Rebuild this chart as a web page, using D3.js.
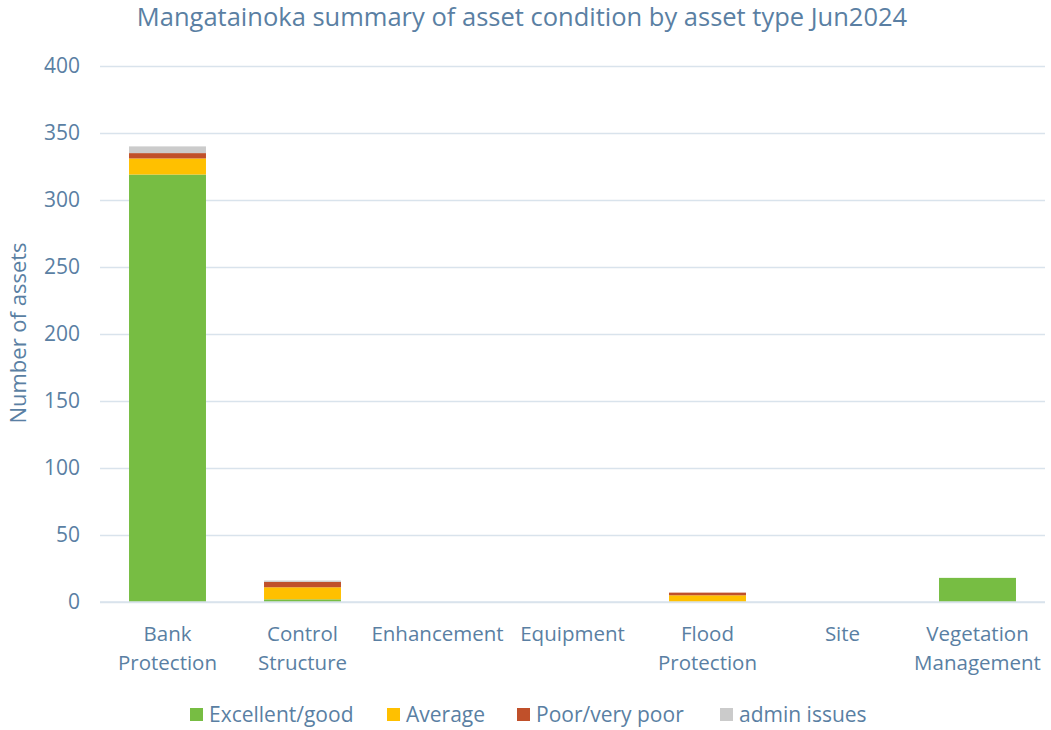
<!DOCTYPE html>
<html>
<head>
<meta charset="utf-8">
<script src="https://cdn.jsdelivr.net/npm/d3@7"></script>
<style>
  body { margin: 0; background: #fff; }
  text { font-family: "Open Sans", sans-serif; fill: #5a7fa3; }
</style>
</head>
<body>
<div id="chart"></div>
<script>
// 資料
const categories = ["Bank Protection", "Control Structure", "Enhancement", "Equipment", "Flood Protection", "Site", "Vegetation Management"];
const categoryLines = [["Bank", "Protection"], ["Control", "Structure"], ["Enhancement"], ["Equipment"], ["Flood", "Protection"], ["Site"], ["Vegetation", "Management"]];
const seriesNames = ["Excellent/good", "Average", "Poor/very poor", "admin issues"];
const excellentGood = [319, 2, 0, 0, 0, 0, 18];
const average = [12, 9, 0, 0, 5, 0, 0];
const poorVeryPoor = [4, 4, 0, 0, 2, 0, 0];
const adminIssues = [5, 1, 0, 0, 0, 0, 0];
const yTicks = [0, 50, 100, 150, 200, 250, 300, 350, 400];
const colors = ["#77bd43", "#ffc000", "#c0502a", "#cbcbcb"];

const W = 1051, H = 730;
const margin = { top: 66, right: 6, bottom: 128, left: 100 };
const width = W - margin.left - margin.right;
const height = H - margin.top - margin.bottom;

const svg = d3.select("#chart").append("svg")
    .attr("width", W).attr("height", H);

// 標題
svg.append("text")
    .attr("x", 522).attr("y", 26)
    .attr("text-anchor", "middle")
    .style("font-size", "25.5px")
    .text("Mangatainoka summary of asset condition by asset type Jun2024");

const g = svg.append("g").attr("transform", `translate(${margin.left},${margin.top})`);

const x = d3.scaleBand().domain(categories).range([0, width]).paddingInner(0.43).paddingOuter(0.215);
const y = d3.scaleLinear().domain([0, 400]).range([height, 0]);

// 格線與 Y 軸
const yAxis = g.append("g")
    .call(d3.axisLeft(y).tickValues(yTicks).tickSize(-width).tickPadding(20));
yAxis.select(".domain").remove();
yAxis.selectAll(".tick line").attr("stroke", "#d9e3ec").attr("stroke-width", 1.3);
yAxis.selectAll(".tick text").style("font-size", "21px").style("fill", "#5a7fa3");

// 堆疊資料
const table = categories.map((c, i) => ({
    category: c,
    "Excellent/good": excellentGood[i],
    "Average": average[i],
    "Poor/very poor": poorVeryPoor[i],
    "admin issues": adminIssues[i]
}));
const stacked = d3.stack().keys(seriesNames)(table);
const color = d3.scaleOrdinal().domain(seriesNames).range(colors);

g.append("g").selectAll("g")
    .data(stacked)
    .enter().append("g")
    .attr("fill", d => color(d.key))
    .selectAll("rect")
    .data(d => d)
    .enter().append("rect")
    .attr("x", d => x(d.data.category))
    .attr("width", x.bandwidth())
    .attr("y", d => y(d[1]))
    .attr("height", d => y(d[0]) - y(d[1]));

// 基線
g.append("line")
    .attr("x1", 0).attr("x2", width)
    .attr("y1", height).attr("y2", height)
    .attr("stroke", "#d9e3ec").attr("stroke-width", 1.5);

// X 軸標籤
const xl = g.append("g");
categories.forEach((c, i) => {
    const t = xl.append("text")
        .attr("x", x(c) + x.bandwidth() / 2)
        .attr("y", height + 39)
        .attr("text-anchor", "middle")
        .style("font-size", "20.5px");
    categoryLines[i].forEach((line, j) => {
        t.append("tspan").attr("x", x(c) + x.bandwidth() / 2).attr("dy", j === 0 ? 0 : 29).text(line);
    });
});

// Y 軸標題
svg.append("text")
    .attr("transform", "rotate(-90)")
    .attr("x", -(margin.top + height / 2) + 1).attr("y", 26)
    .attr("text-anchor", "middle")
    .style("font-size", "22px")
    .text("Number of assets");

// 圖例
const legendX = [190, 387, 517, 720];
const legend = svg.selectAll(".legend")
    .data(seriesNames)
    .enter().append("g")
    .attr("class", "legend")
    .attr("transform", (d, i) => `translate(${legendX[i]},715)`);
legend.append("rect")
    .attr("x", 0).attr("y", -7).attr("width", 13).attr("height", 13)
    .attr("fill", d => color(d));
legend.append("text")
    .attr("x", 19).attr("y", 0).attr("dy", ".35em")
    .style("font-size", "21px")
    .text(d => d);
</script>
</body>
</html>
